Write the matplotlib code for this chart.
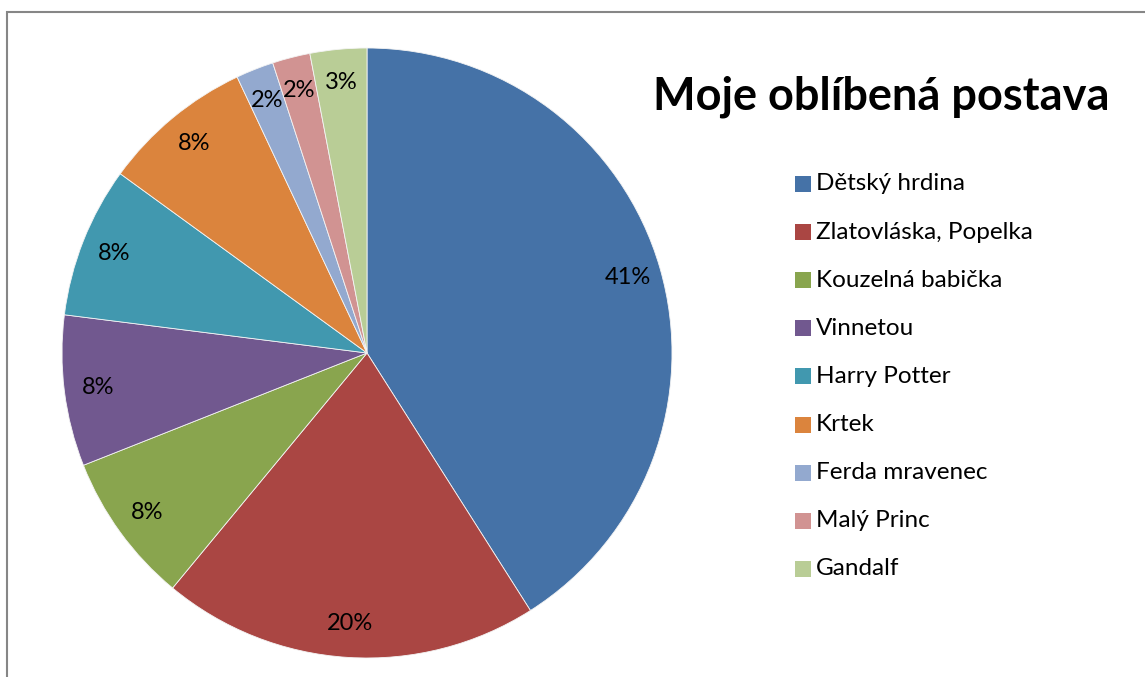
import matplotlib
matplotlib.use("Agg")
import matplotlib.pyplot as plt
from matplotlib.patches import Rectangle

plt.rcParams['font.family'] = ['Lato', 'DejaVu Sans']

title = "Moje oblíbená postava"
categories = ["Dětský hrdina", "Zlatovláska, Popelka", "Kouzelná babička", "Vinnetou",
              "Harry Potter", "Krtek", "Ferda mravenec", "Malý Princ", "Gandalf"]
shares = [41, 20, 8, 8, 8, 8, 2, 2, 3]
colors = ["#4572A7", "#AA4643", "#89A54E", "#71588F", "#4198AF",
          "#DB843D", "#93A9CF", "#D19392", "#B9CD96"]

W, H = 1145, 677
fig = plt.figure(figsize=(W / 100, H / 100), dpi=100)

# chart-area frame
fig.patches.append(Rectangle((7 / W, -0.1), 1.2, (H - 12) / H + 0.1, transform=fig.transFigure,
                             fill=False, edgecolor="#868686", linewidth=1.5))

cx, cy, r = 367, 353, 305
ax = fig.add_axes([(cx - r) / W, (H - cy - r) / H, 2 * r / W, 2 * r / H])
wedges, texts, autotexts = ax.pie(
    shares, colors=colors, startangle=90, counterclock=False,
    autopct=lambda p: f"{p:.0f}%", pctdistance=0.89,
    wedgeprops=dict(linewidth=0.6, edgecolor="#f4f4f4"),
    textprops=dict(fontsize=17, color="black"))
ax.set_aspect("equal")
ax.set_xlim(-1, 1)
ax.set_ylim(-1, 1)

fig.text(881 / W, 1 - 97 / H, title, ha="center", va="center",
         fontsize=32.5, fontweight="bold")

# legend
y0, dy = 184, 48.1
for i, (name, col) in enumerate(zip(categories, colors)):
    y = y0 + i * dy
    fig.patches.append(Rectangle((795 / W, 1 - (y + 8) / H), 16 / W, 16 / H,
                                 transform=fig.transFigure, facecolor=col, edgecolor="none"))
    fig.text(816 / W, 1 - y / H, name, ha="left", va="center", fontsize=17.5)

fig.savefig("out.png", dpi=100)
